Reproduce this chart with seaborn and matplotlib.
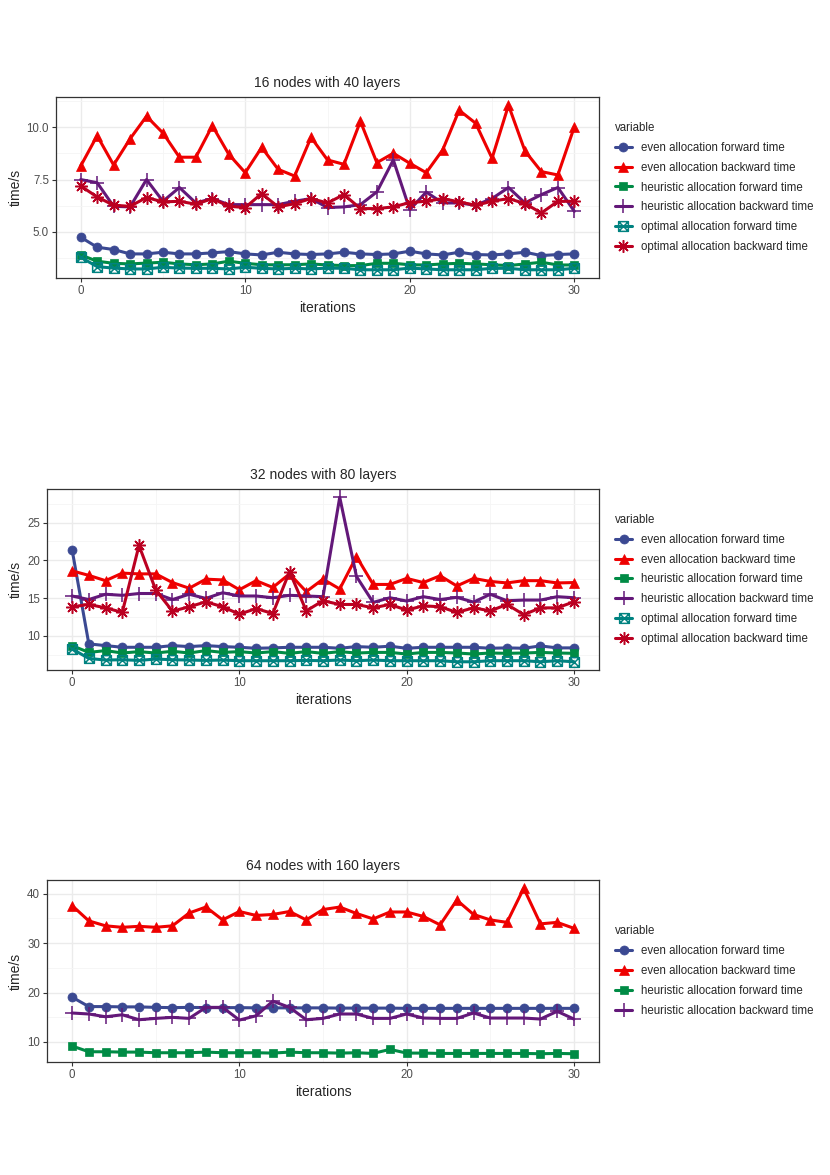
import numpy as np
import pandas as pd
import seaborn as sns
import matplotlib.pyplot as plt
from matplotlib.path import Path
from matplotlib.ticker import MultipleLocator

sns.set_theme(style="white")
plt.rcParams['font.family'] = ['Liberation Sans', 'DejaVu Sans']

iterations = list(range(31))

series_names = ["even allocation forward time", "even allocation backward time",
                "heuristic allocation forward time", "heuristic allocation backward time",
                "optimal allocation forward time", "optimal allocation backward time"]

# 16 nodes with 40 layers
even_fwd_16 = [4.74, 4.26, 4.15, 3.94, 3.94, 4.02, 3.94, 3.94, 3.99, 4.05, 3.94, 3.89, 4.02, 3.94, 3.91, 3.94,
               4.02, 3.94, 3.91, 3.94, 4.07, 3.94, 3.89, 4.02, 3.91, 3.89, 3.94, 4.02, 3.86, 3.91, 3.94]
even_bwd_16 = [8.15, 9.6, 8.2, 9.45, 10.53, 9.73, 8.57, 8.57, 10.08, 8.71, 7.83, 9.04, 7.99, 7.67, 9.52, 8.44,
               8.23, 10.29, 8.31, 8.76, 8.28, 7.83, 8.92, 10.82, 10.2, 8.52, 11.06, 8.87, 7.88, 7.72, 10.02]
heur_fwd_16 = [3.89, 3.59, 3.49, 3.46, 3.5, 3.54, 3.46, 3.42, 3.46, 3.59, 3.49, 3.42, 3.42, 3.42, 3.46, 3.41,
               3.38, 3.38, 3.49, 3.49, 3.42, 3.41, 3.46, 3.49, 3.46, 3.42, 3.38, 3.46, 3.54, 3.41, 3.41]
heur_bwd_16 = [7.5, 7.35, 6.22, 6.19, 7.5, 6.46, 7.12, 6.38, 6.59, 6.3, 6.3, 6.3, 6.3, 6.46, 6.59, 6.16,
               6.19, 6.3, 6.91, 8.44, 6.06, 6.9, 6.38, 6.38, 6.27, 6.59, 7.12, 6.38, 6.78, 7.12, 5.98]
opt_fwd_16 = [3.78, 3.33, 3.26, 3.22, 3.22, 3.3, 3.26, 3.25, 3.25, 3.22, 3.3, 3.25, 3.22, 3.25, 3.22, 3.26,
              3.25, 3.18, 3.18, 3.18, 3.26, 3.22, 3.18, 3.18, 3.18, 3.25, 3.25, 3.18, 3.18, 3.18, 3.25]
opt_bwd_16 = [7.19, 6.67, 6.27, 6.22, 6.64, 6.43, 6.46, 6.32, 6.59, 6.22, 6.16, 6.83, 6.19, 6.35, 6.59, 6.38,
              6.78, 6.11, 6.11, 6.19, 6.4, 6.46, 6.59, 6.43, 6.27, 6.46, 6.59, 6.35, 5.9, 6.46, 6.46]

# 32 nodes with 80 layers
even_fwd_32 = [21.4, 8.93, 8.7, 8.48, 8.48, 8.48, 8.7, 8.57, 8.7, 8.57, 8.48, 8.35, 8.4, 8.48, 8.48, 8.48,
               8.35, 8.57, 8.48, 8.62, 8.35, 8.48, 8.48, 8.48, 8.48, 8.35, 8.4, 8.35, 8.66, 8.4, 8.4]
even_bwd_32 = [18.6, 18.0, 17.3, 18.3, 18.2, 18.2, 17.05, 16.3, 17.5, 17.4, 16.1, 17.3, 16.4, 18.2, 15.85, 17.5,
               16.2, 20.5, 16.8, 16.8, 17.6, 17.05, 17.95, 16.6, 17.6, 17.2, 17.0, 17.3, 17.3, 17.0, 17.05]
heur_fwd_32 = [8.7, 7.8, 8.04, 7.72, 7.9, 7.72, 7.95, 7.72, 8.04, 7.8, 7.9, 7.72, 7.9, 7.68, 7.9, 7.68,
               7.9, 7.72, 7.8, 7.8, 7.59, 7.8, 7.8, 7.72, 7.59, 7.72, 7.68, 7.72, 7.8, 7.72, 7.68]
heur_bwd_32 = [15.27, 14.8, 15.5, 15.36, 15.6, 15.6, 14.8, 15.5, 14.95, 15.7, 15.27, 15.27, 15.04, 15.36, 15.27, 15.18,
               28.35, 17.86, 14.42, 15.04, 14.6, 15.18, 14.8, 15.09, 14.46, 15.5, 14.64, 14.73, 14.73, 15.18, 15.04]
opt_fwd_32 = [8.26, 7.0, 6.79, 6.83, 6.74, 6.92, 6.83, 6.79, 6.74, 6.79, 6.7, 6.7, 6.7, 6.7, 6.74, 6.7,
              6.79, 6.7, 6.79, 6.7, 6.7, 6.7, 6.7, 6.56, 6.56, 6.7, 6.7, 6.7, 6.56, 6.7, 6.56]
opt_bwd_32 = [13.84, 14.15, 13.7, 13.1, 21.96, 16.07, 13.26, 13.84, 14.5, 13.84, 12.86, 13.6, 12.95, 18.5, 13.3, 14.64,
              14.15, 14.15, 13.7, 14.15, 13.4, 13.97, 13.84, 13.1, 13.7, 13.3, 14.15, 12.8, 13.7, 13.7, 14.5]

# 64 nodes with 160 layers
even_fwd_64 = [19.07, 17.16, 17.16, 17.1, 17.1, 17.0, 16.95, 17.0, 16.95, 16.95, 16.95, 16.9, 16.9, 16.9, 16.9, 16.9,
               16.85, 16.85, 16.85, 16.85, 16.8, 16.8, 16.8, 16.8, 16.8, 16.8, 16.8, 16.8, 16.8, 16.8, 16.8]
even_bwd_64 = [37.6, 34.5, 33.5, 33.2, 33.4, 33.2, 33.5, 36.1, 37.3, 34.7, 36.4, 35.6, 35.8, 36.4, 34.7, 36.8,
               37.3, 36.0, 34.9, 36.3, 36.3, 35.4, 33.7, 38.7, 35.8, 34.7, 34.2, 41.1, 33.9, 34.2, 33.0]
heur_fwd_64 = [9.18, 8.02, 8.02, 7.95, 7.95, 7.82, 7.82, 7.82, 7.95, 7.82, 7.82, 7.82, 7.75, 7.95, 7.82, 7.82,
               7.75, 7.82, 7.68, 8.5, 7.75, 7.75, 7.68, 7.68, 7.68, 7.68, 7.68, 7.68, 7.62, 7.68, 7.62]
heur_bwd_64 = [15.86, 15.66, 15.1, 15.5, 14.5, 14.77, 14.98, 14.77, 17.0, 17.0, 14.43, 15.3, 18.25, 17.0, 14.5, 14.77,
               15.66, 15.66, 14.77, 14.77, 15.66, 14.84, 14.77, 14.77, 15.86, 14.84, 14.84, 14.84, 14.64, 16.2, 14.64]

panel_titles = ["16 nodes with 40 layers", "32 nodes with 80 layers", "64 nodes with 160 layers"]
panel_series = [
    [even_fwd_16, even_bwd_16, heur_fwd_16, heur_bwd_16, opt_fwd_16, opt_bwd_16],
    [even_fwd_32, even_bwd_32, heur_fwd_32, heur_bwd_32, opt_fwd_32, opt_bwd_32],
    [even_fwd_64, even_bwd_64, heur_fwd_64, heur_bwd_64],
]
panel_yticks = [[5.0, 7.5, 10.0], [10, 15, 20, 25], [10, 20, 30, 40]]
panel_ytick_labels = [["5.0", "7.5", "10.0"], ["10", "15", "20", "25"], ["10", "20", "30", "40"]]

# style per series (AAAS palette, ggplot default shapes)
colors = ["#3B4992", "#EE0000", "#008B45", "#631879", "#008280", "#BB0021"]
boxx = Path([(-1, -1), (1, -1), (1, 1), (-1, 1), (-1, -1), (1, 1), (-1, 1), (1, -1)],
            [Path.MOVETO, Path.LINETO, Path.LINETO, Path.LINETO, Path.CLOSEPOLY,
             Path.LINETO, Path.MOVETO, Path.LINETO])
markers = ["o", "^", "s", "+", boxx, (8, 2, 0)]
msizes = [6.5, 7.5, 6.0, 10, 7.0, 9]
filled = [True, True, True, False, False, False]
mews = [0.5, 0.5, 0.5, 1.1, 1.1, 1.1]

fig = plt.figure(figsize=(8.3, 11.75), dpi=100)
W, H = 830, 1175
boxes = [(56, 97, 599, 278), (47, 489, 599, 670), (47, 880, 599, 1062)]

for p in range(3):
    l, t, r, b = boxes[p]
    ax = fig.add_axes([l / W, 1 - b / H, (r - l) / W, (b - t) / H])
    for i, vals in enumerate(panel_series[p]):
        c = colors[i]
        sns.lineplot(x=iterations, y=vals, ax=ax, color=c, linewidth=2.2,
                     marker=markers[i], markersize=msizes[i],
                     markeredgecolor=c, markerfacecolor=c if filled[i] else "none",
                     markeredgewidth=mews[i], label=series_names[i])
    ax.set_xlim(-1.5, 31.5)
    ax.margins(y=0.05)
    ax.set_xticks([0, 10, 20, 30])
    ax.xaxis.set_minor_locator(MultipleLocator(5))
    ax.set_yticks(panel_yticks[p])
    ax.set_yticklabels(panel_ytick_labels[p])
    yt = panel_yticks[p]
    step = yt[1] - yt[0]
    ax.yaxis.set_minor_locator(MultipleLocator(step / 2))
    ax.grid(True, which="major", color="#EBEBEB", linewidth=1.0)
    ax.grid(True, which="minor", color="#F5F5F5", linewidth=0.6)
    ax.set_axisbelow(True)
    for s in ax.spines.values():
        s.set_color("#333333")
        s.set_linewidth(0.9)
    ax.tick_params(which="major", length=3, width=0.8, color="#333333",
                   labelsize=8.3, labelcolor="#4D4D4D", pad=2)
    ax.tick_params(which="minor", length=0)
    ax.tick_params(axis="both", which="major", bottom=True, left=True)
    ax.set_title(panel_titles[p], fontsize=10, pad=7)
    ax.set_xlabel("iterations", fontsize=10, labelpad=3)
    ax.set_ylabel("time/s", fontsize=10, labelpad=3)
    leg = ax.legend(loc="center left", bbox_to_anchor=(1.01, 0.5), frameon=False,
                    title="variable", fontsize=8.3, title_fontsize=8.3, alignment="left",
                    handlelength=1.5, handletextpad=0.75, labelspacing=0.68, borderaxespad=0.5)

fig.savefig("out.png", dpi=100)
